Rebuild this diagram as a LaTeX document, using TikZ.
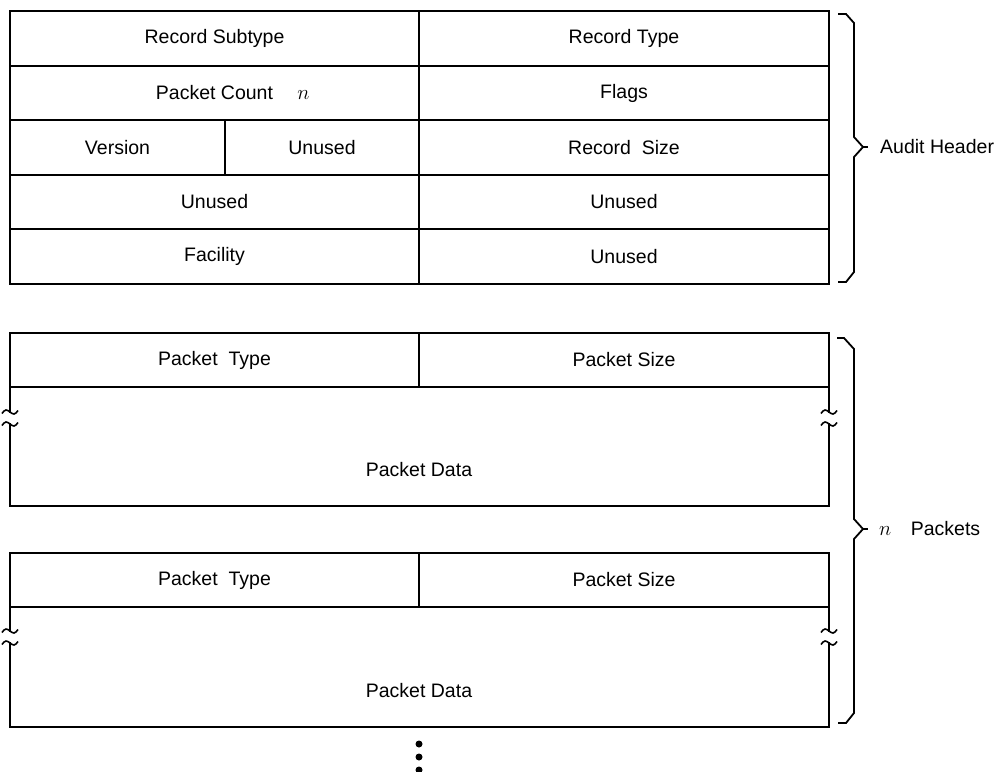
\documentclass[tikz,border=0pt]{standalone}
\usepackage{fontspec}
\setmainfont{Liberation Sans}
\begin{document}
\begin{tikzpicture}[x=1pt,y=-1pt,
  frame/.style={line width=2pt, line cap=rect},
  brk/.style={line width=1.6pt},
  brc/.style={line width=1.8pt, line join=miter},
  lbl/.style={inner sep=0pt, font=\fontsize{19.5}{23}\selectfont},
  dotmark/.style={circle, fill=black, inner sep=0pt, minimum size=7pt}]
\useasboundingbox (0,0) rectangle (1000,771);

% ---------- Audit header ----------
\coordinate (hTL) at (10,11);
\coordinate (hBR) at (829,284);
\draw[frame] (hTL) rectangle (hBR);
\draw[frame] (10,66) -- (829,66);
\draw[frame] (10,120) -- (829,120);
\draw[frame] (10,175) -- (829,175);
\draw[frame] (10,229) -- (829,229);
\draw[frame] (419,11) -- (419,284);
\draw[frame] (225,120) -- (225,175);

\node[lbl] (rst) at (214.5,38.5) {Record Subtype};
\node[lbl] (rty) at (624,38.5) {Record Type};
\node[lbl] (pcn) at (214.5,93) {Packet Count};
\node[lbl, anchor=base west] (pcm) at ([xshift=24pt]pcn.base east) {$n$};
\node[lbl] (flg) at (624,93) {Flags};
\node[lbl] (ver) at (117.5,147.5) {Version};
\node[lbl] (un1) at (322,147.5) {Unused};
\node[lbl] (rsz) at (624,147.5) {Record\ \ Size};
\node[lbl] (un2) at (214.5,202) {Unused};
\node[lbl] (un3) at (624,202) {Unused};
\node[lbl] (fac) at (214.5,256.5) {Facility};
\node[lbl] (un4) at (624,256.5) {Unused};

% header brace
\draw[brc] (838,14) -- (846,14) -- (854,23) -- (854,137) -- (863,147) -- (854,157) -- (854,272) -- (846,282) -- (838,282);
\draw[brc] (863,147) -- (868,147);
\node[lbl, anchor=west] (ahd) at (880,147) {Audit Header};

% ---------- Packets ----------
% packet 1
\draw[frame] (10,387) -- (10,333) -- (829,333) -- (829,387);
\draw[frame] (10,387) -- (829,387);
\draw[frame] (419,333) -- (419,387);
\draw[frame] (10,424) -- (10,506) -- (829,506) -- (829,424);
\draw[frame] (10,387) -- (10,412);
\draw[frame] (829,387) -- (829,412);
\foreach \xx in {10,829}{
  \foreach \yy in {412,424}{
    \draw[brk] (\xx-8,\yy+1.5) sin (\xx-4,\yy-2) cos (\xx,\yy) sin (\xx+4,\yy+2) cos (\xx+8,\yy-1.5);
  }
}
\node[lbl] (pt1) at (214.5,360) {Packet\ \ Type};
\node[lbl] (ps1) at (624,360) {Packet Size};
\node[lbl] (pd1) at (419,470) {Packet Data};

% packet 2
\draw[frame] (10,607) -- (10,553) -- (829,553) -- (829,607);
\draw[frame] (10,607) -- (829,607);
\draw[frame] (419,553) -- (419,607);
\draw[frame] (10,643) -- (10,727) -- (829,727) -- (829,643);
\draw[frame] (10,607) -- (10,631);
\draw[frame] (829,607) -- (829,631);
\foreach \xx in {10,829}{
  \foreach \yy in {631,643}{
    \draw[brk] (\xx-8,\yy+1.5) sin (\xx-4,\yy-2) cos (\xx,\yy) sin (\xx+4,\yy+2) cos (\xx+8,\yy-1.5);
  }
}
\node[lbl] (pt2) at (214.5,580) {Packet\ \ Type};
\node[lbl] (ps2) at (624,580) {Packet Size};
\node[lbl] (pd2) at (419,691) {Packet Data};

% packets brace
\draw[brc] (837,338) -- (844,338) -- (854,349) -- (854,519) -- (863,529) -- (854,539) -- (854,713) -- (846,723) -- (838,723);
\draw[brc] (863,529) -- (868,529);
\node[lbl, anchor=west] (npk) at (879,529) {$n$\quad Packets};

% continuation dots
\node[dotmark] (d1) at (419,744) {};
\node[dotmark] (d2) at (419,757) {};
\node[dotmark] (d3) at (419,770) {};
\end{tikzpicture}
\end{document}
